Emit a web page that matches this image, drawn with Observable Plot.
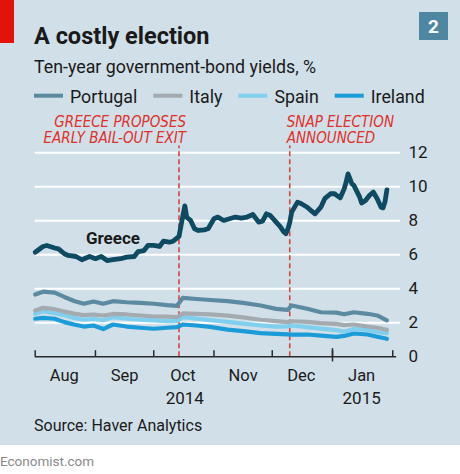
<!DOCTYPE html>
<html><head><meta charset="utf-8">
<script src="https://cdn.jsdelivr.net/npm/d3@7"></script>
<script src="https://cdn.jsdelivr.net/npm/@observablehq/plot@0.6"></script>
<style>
html,body{margin:0;padding:0;background:#fff;}
#wrap{position:relative;width:460px;height:474px;overflow:hidden;font-family:Roboto,sans-serif;}
#bg{position:absolute;left:0;top:0;width:460px;height:445px;background:#d1dfe8;}
#deco{position:absolute;left:0;top:0;}
#chart{position:absolute;left:0;top:110px;}
</style></head><body>
<div id="wrap"><div id="bg"></div><svg id="deco" width="460" height="474"></svg><div id="chart"></div></div>
<script>
const title = "A costly election";
const subtitle = "Ten-year government-bond yields, %";
const source = "Source: Haver Analytics";
const credit = "Economist.com";
const chartNumber = "2";
const seriesNames = ["Portugal", "Italy", "Spain", "Ireland"];
const seriesColors = ["#5b8aa1", "#a3abb0", "#80cfee", "#1b9bd7"];
const greeceName = "Greece";
const greeceColor = "#0e4a62";

const greeceDates = ["2014-08-01","2014-08-05","2014-08-07","2014-08-11","2014-08-13","2014-08-16","2014-08-18","2014-08-22","2014-08-25","2014-08-29",
"2014-09-01","2014-09-04","2014-09-07","2014-09-10","2014-09-14","2014-09-17","2014-09-21","2014-09-23","2014-09-26","2014-09-28",
"2014-10-01","2014-10-04","2014-10-06","2014-10-09","2014-10-11","2014-10-14","2014-10-15","2014-10-16","2014-10-17","2014-10-18","2014-10-20","2014-10-22","2014-10-24","2014-10-27","2014-10-29",
"2014-11-01","2014-11-03","2014-11-06","2014-11-09","2014-11-12","2014-11-15","2014-11-18","2014-11-21","2014-11-22","2014-11-24","2014-11-26","2014-11-28","2014-11-30",
"2014-12-03","2014-12-05","2014-12-07","2014-12-08","2014-12-09","2014-12-10","2014-12-11","2014-12-14","2014-12-16","2014-12-19","2014-12-21","2014-12-23","2014-12-26","2014-12-28","2014-12-31",
"2015-01-02","2015-01-05","2015-01-07","2015-01-08","2015-01-09","2015-01-11","2015-01-12","2015-01-15","2015-01-16","2015-01-18","2015-01-20","2015-01-22","2015-01-24","2015-01-26","2015-01-27","2015-01-28","2015-01-29"];
const greeceValues = [6.15,6.49,6.55,6.40,6.35,6.06,5.96,5.90,5.71,5.90,
5.77,5.90,5.66,5.71,5.77,5.86,5.90,6.19,6.25,6.55,
6.55,6.49,6.80,6.74,6.80,7.08,7.69,8.30,8.88,8.20,8.02,7.53,7.43,7.47,7.53,
8.12,8.22,8.02,8.12,8.22,8.16,8.22,8.37,8.22,7.92,7.98,8.41,8.31,
7.92,7.67,7.33,7.24,7.50,7.90,8.51,9.10,9.00,8.80,8.60,8.41,8.80,9.30,9.59,
9.59,9.35,9.88,10.27,10.76,10.17,10.08,9.39,9.05,9.20,9.49,9.69,9.30,8.80,8.76,9.10,9.82];

const lowerDates = ["2014-08-01","2014-08-05","2014-08-11","2014-08-16","2014-08-21","2014-08-26","2014-08-31","2014-09-05","2014-09-10","2014-09-17","2014-09-24",
"2014-10-01","2014-10-08","2014-10-13","2014-10-16","2014-10-23","2014-10-30","2014-11-08","2014-11-16","2014-11-25",
"2014-12-03","2014-12-09","2014-12-11","2014-12-19","2014-12-26","2015-01-03","2015-01-07","2015-01-12","2015-01-19","2015-01-24","2015-01-29"];
const portugalValues = [3.66,3.83,3.78,3.52,3.28,3.12,3.25,3.12,3.27,3.21,3.17,3.12,3.04,3.00,3.47,3.40,3.34,3.27,3.17,3.02,2.82,2.76,3.02,2.83,2.62,2.60,2.50,2.62,2.53,2.43,2.14];
const italyValues    = [2.72,2.88,2.80,2.66,2.54,2.45,2.49,2.43,2.52,2.49,2.43,2.37,2.36,2.33,2.55,2.52,2.49,2.42,2.32,2.18,2.10,2.04,2.09,2.05,1.98,1.94,1.86,1.90,1.78,1.71,1.59];
const spainValues    = [2.53,2.68,2.56,2.45,2.29,2.18,2.24,2.15,2.33,2.24,2.18,2.14,2.10,2.10,2.33,2.25,2.16,2.05,1.95,1.85,1.78,1.79,1.84,1.75,1.66,1.57,1.47,1.64,1.58,1.45,1.39];
const irelandValues  = [2.24,2.29,2.24,2.04,1.90,1.78,1.84,1.63,1.90,1.78,1.71,1.65,1.71,1.75,1.90,1.84,1.76,1.60,1.51,1.39,1.35,1.32,1.31,1.31,1.25,1.17,1.23,1.37,1.31,1.18,1.06];
const seriesValues = [portugalValues, italyValues, spainValues, irelandValues];

const yTicks = [0, 2, 4, 6, 8, 10, 12];
const monthStarts = ["2014-08-01","2014-09-01","2014-10-01","2014-11-01","2014-12-01","2015-01-01","2015-02-01"];
const yearStarts = ["2015-01-01"];
const monthLabelDates = ["2014-08-16","2014-09-16","2014-10-16","2014-11-16","2014-12-16","2015-01-16"];
const yearLabelDates = ["2014-10-17","2015-01-16"];
const xDomain = ["2014-08-01","2015-02-05"];
const axisEnd = "2015-02-03";
const eventDates = ["2014-10-14","2014-12-10"];
const eventLabels = ["GREECE PROPOSES\nEARLY BAIL-OUT EXIT", "SNAP ELECTION\nANNOUNCED"];
const eventTop = 12.4;
const greeceLabelDate = "2014-09-10";
const greeceLabelValue = 6.98;

const D = s => new Date(s);
const greeceRows = greeceDates.map((d, i) => ({date: D(d), value: greeceValues[i]}));
const seriesRows = seriesNames.map((name, k) => lowerDates.map((d, i) => ({date: D(d), value: seriesValues[k][i], series: name})));
const events = eventDates.map((d, i) => ({date: D(d), label: eventLabels[i]}));
const monthTicks = monthStarts.map(d => ({date: D(d)}));
const yearTicks = yearStarts.map(d => ({date: D(d)}));
const baseline = [{y: 0, x1: D(xDomain[0]), x2: D(axisEnd)}];

const red = "#e0302a";
const axisColor = "#2a2a2a";
const fontFamily = "Roboto, sans-serif";
const annFont = "'DejaVu Sans Condensed', 'Liberation Sans Narrow', sans-serif";

const lineMarks = [];
for (let k = seriesNames.length - 1; k >= 0; k--) {
  lineMarks.push(Plot.line(seriesRows[k], {x: "date", y: "value", stroke: seriesColors[k], strokeWidth: 4.2}));
}
const annOpts = {x: "date", y: eventTop, text: "label", lineAnchor: "bottom", lineHeight: 1.1, dy: -3,
  fill: red, fontStyle: "italic", fontFamily: annFont, fontSize: 15};

const chart = Plot.plot({
  width: 460, height: 305,
  marginLeft: 34.7, marginRight: 60, marginTop: 42.3, marginBottom: 58.7,
  style: {background: "transparent", fontFamily, fontSize: "16.5px", color: "#1a1a1a", overflow: "visible"},
  x: {type: "utc", domain: xDomain.map(D)},
  y: {domain: [0, 12], label: null},
  marks: [
    Plot.gridY(yTicks.filter(t => t > 0), {stroke: "#fff", strokeOpacity: 1, strokeWidth: 2}),
    Plot.ruleX(events, {x: "date", y1: 0, y2: eventTop, stroke: "#d9443e", strokeWidth: 1.6, strokeDasharray: "5,3"}),
    ...lineMarks,
    Plot.line(greeceRows, {x: "date", y: "value", stroke: greeceColor, strokeWidth: 4.8}),
    Plot.ruleY(baseline, {y: "y", x1: "x1", x2: "x2", stroke: axisColor, strokeWidth: 1.5}),
    Plot.ruleX(monthTicks, {x: "date", y1: 0, y2: 0.36, stroke: axisColor, strokeWidth: 1.5}),
    Plot.ruleX(yearTicks, {x: "date", y1: -0.3, y2: 0.48, stroke: axisColor, strokeWidth: 1.5}),
    Plot.axisX(monthLabelDates.map(D), {tickSize: 0, tickPadding: 12, tickFormat: "%b", fontSize: 16.5, fill: "#1a1a1a", label: null}),
    Plot.axisX(yearLabelDates.map(D), {tickSize: 0, tickPadding: 35, tickFormat: "%Y", fontSize: 17, fill: "#1a1a1a", label: null}),
    Plot.axisY(yTicks, {anchor: "right", tickSize: 0, tickPadding: 8, fontSize: 17, fill: "#1a1a1a", label: null}),
    Plot.text(events.slice(0, 1), {...annOpts, textAnchor: "end", dx: 7}),
    Plot.text(events.slice(1), {...annOpts, textAnchor: "start", dx: -3}),
    Plot.text([greeceName], {x: D(greeceLabelDate), y: greeceLabelValue, text: d => d, fontWeight: "bold", fontSize: 17, fill: "#1a1a1a"})
  ]
});
document.getElementById("chart").appendChild(chart);

// decorations
const svg = d3.select("#deco");
svg.append("rect").attr("x", 0).attr("y", 0).attr("width", 14).attr("height", 43).attr("fill", "#e3120b");
svg.append("rect").attr("x", 419).attr("y", 12).attr("width", 29).attr("height", 28).attr("fill", "#4f86a2");
svg.append("text").attr("x", 433.5).attr("y", 33).attr("text-anchor", "middle").attr("fill", "#fff")
  .attr("font-family", fontFamily).attr("font-weight", "bold").attr("font-size", 19).text(chartNumber);
svg.append("text").attr("x", 34).attr("y", 44).attr("fill", "#1a1a1a").attr("font-family", fontFamily)
  .attr("font-weight", "bold").attr("font-size", 23.5).text(title);
svg.append("text").attr("x", 34).attr("y", 72.7).attr("fill", "#1a1a1a").attr("font-family", fontFamily)
  .attr("font-size", 17.8).text(subtitle);
let lx = 34;
seriesNames.forEach((name, k) => {
  svg.append("line").attr("x1", lx).attr("x2", lx + 29).attr("y1", 95.7).attr("y2", 95.7)
    .attr("stroke", seriesColors[k]).attr("stroke-width", 4);
  const t = svg.append("text").attr("x", lx + 36).attr("y", 102.7).attr("fill", "#1a1a1a")
    .attr("font-family", fontFamily).attr("font-size", 17.8).text(name);
  lx = lx + 36 + t.node().getComputedTextLength() + 16;
});
svg.append("text").attr("x", 34).attr("y", 430.7).attr("fill", "#1a1a1a").attr("font-family", fontFamily)
  .attr("font-size", 16).text(source);
svg.append("text").attr("x", 0).attr("y", 466).attr("fill", "#8a8a8a").attr("font-family", fontFamily)
  .attr("font-size", 13.5).text(credit);
</script>
</body></html>
